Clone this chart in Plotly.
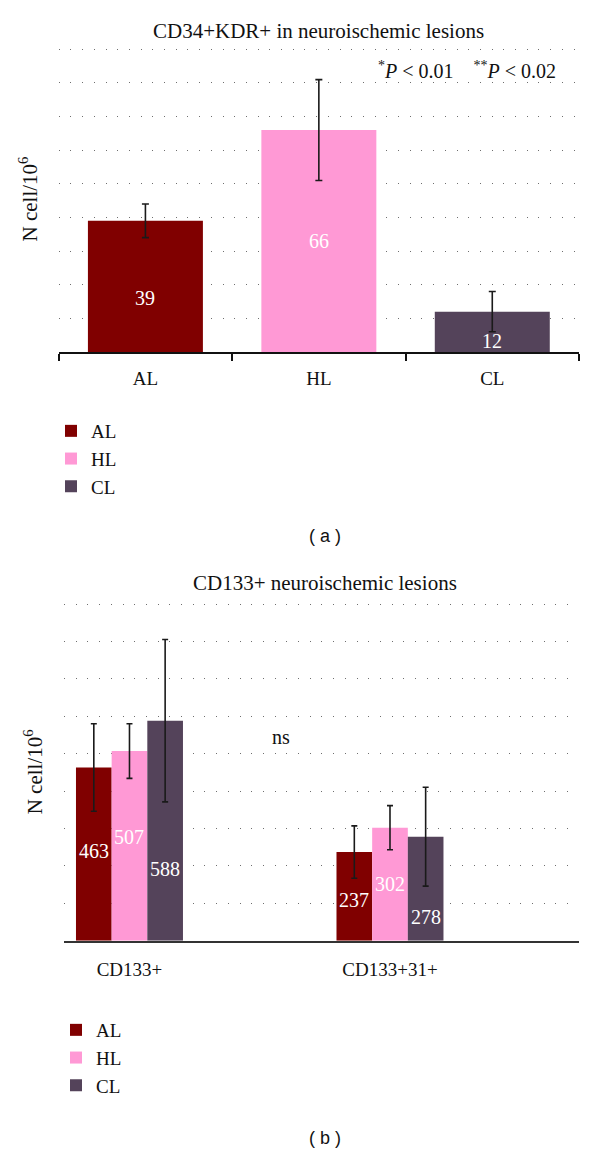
import plotly.graph_objects as go

# ---------------- data ----------------
groups = ["AL", "HL", "CL"]
colors = ["#800000", "#FF99D5", "#54435A"]

# panel (a): CD34+KDR+
a_categories = ["AL", "HL", "CL"]
a_values = [39, 66, 12]
a_errors = [5, 15, 6]

# panel (b): CD133+
b_categories = ["CD133+", "CD133+31+"]
b_values = {"AL": [463, 237], "HL": [507, 302], "CL": [588, 278]}
b_errors = {"AL": [117, 70], "HL": [73, 59], "CL": [217, 132]}

# label pixel shifts (style)
a_label_shift = [-12, 0, -9]
b_label_shift = {"AL": [3, -4], "HL": [9, 0], "CL": [-38, -28]}

# page has an 8px body margin: figure is drawn 8px in from the top-left corner
OFF = 8
W, H = 600 - OFF, 1154 - OFF


def PX(px):
    return (px - OFF) / W


def PY(py):
    return 1 - (py - OFF) / H


SERIF = "Liberation Serif"
SANS = "Liberation Sans"
TXT = "#111111"

fig = go.Figure()

# ---- panel (a) bars ----
a_w = 0.663
for i, g in enumerate(groups):
    fig.add_trace(go.Bar(
        x=[a_categories[i]], y=[a_values[i]], name=g,
        marker=dict(color=colors[i], line=dict(width=0)),
        width=a_w, offset=-a_w / 2,
        error_y=dict(type="data", array=[a_errors[i]], color="#1a1a1a", thickness=1.6, width=3.5),
        xaxis="x", yaxis="y", legend="legend", showlegend=True,
    ))

# ---- panel (b) bars ----
b_w = 0.1369
b_start = -0.2054
for i, g in enumerate(groups):
    fig.add_trace(go.Bar(
        x=b_categories, y=b_values[g], name=g,
        marker=dict(color=colors[i], line=dict(width=0)),
        width=b_w, offset=b_start + i * b_w,
        error_y=dict(type="data", array=b_errors[g], color="#1a1a1a", thickness=1.6, width=3),
        xaxis="x2", yaxis="y2", legend="legend2", showlegend=True,
    ))

annotations = []
# value labels (a)
for i, g in enumerate(groups):
    annotations.append(dict(
        x=a_categories[i], y=a_values[i] / 2, xref="x", yref="y",
        xanchor="center", yanchor="middle",
        text=str(a_values[i]), showarrow=False, yshift=a_label_shift[i],
        font=dict(family=SERIF, size=20, color="white")))
# value labels (b)
for i, g in enumerate(groups):
    for j, cat in enumerate(b_categories):
        annotations.append(dict(
            x=j + b_start + (i + 0.5) * b_w, y=b_values[g][j] / 2, xref="x2", yref="y2",
            xanchor="center", yanchor="middle",
            text=str(b_values[g][j]), showarrow=False, yshift=b_label_shift[g][j],
            font=dict(family=SERIF, size=20, color="white")))


def note(x, y, text, size, family=SERIF, xanchor="center"):
    return dict(x=PX(x), y=PY(y), xref="paper", yref="paper", showarrow=False,
                xanchor=xanchor, yanchor="middle", text=text,
                font=dict(family=family, size=size, color=TXT))


annotations += [
    note(318, 31, "CD34+KDR+ in neuroischemic lesions", 21),
    note(558, 70, "<sup>*</sup><i>P</i> &lt; 0.01 &nbsp;&nbsp;&nbsp;<sup>**</sup><i>P</i> &lt; 0.02",
         20, xanchor="right"),
    note(325, 536, "( a )", 18, family=SANS),
    note(325, 583, "CD133+ neuroischemic lesions", 21),
    note(281, 737, "ns", 20),
    note(325, 1138, "( b )", 18, family=SANS),
]

grid_common = dict(showgrid=True, gridcolor="#6e6e6e", gridwidth=1, griddash="1px,10.7px",
                   zeroline=False, showline=False, showticklabels=False, ticks="")

fig.update_layout(
    width=W, height=H, margin=dict(l=0, r=0, t=0, b=0),
    paper_bgcolor="white", plot_bgcolor="white",
    barmode="overlay", showlegend=True,
    font=dict(family=SERIF, size=19, color=TXT),
    xaxis=dict(domain=[PX(58.7), PX(579)], anchor="y", type="category",
               range=[-0.5, 2.5], showline=True, linecolor="#111", linewidth=1.6,
               ticks="outside", tickson="boundaries", ticklen=7, tickcolor="#111", tickwidth=1.6,
               showgrid=False, ticklabelstandoff=8,
               tickfont=dict(family=SERIF, size=19, color=TXT)),
    yaxis=dict(domain=[PY(352), PY(46)], anchor="x", range=[0, 91], dtick=10,
               title=dict(text="N cell/10<sup>6</sup>", standoff=14,
                          font=dict(family=SERIF, size=21, color=TXT)),
               **grid_common),
    xaxis2=dict(domain=[PX(64), PX(579)], anchor="y2", type="category",
                range=[-0.2514, 1.7255], showline=True, linecolor="#333", linewidth=2,
                ticks="", showgrid=False, ticklabelstandoff=10,
                tickfont=dict(family=SERIF, size=19, color=TXT)),
    yaxis2=dict(domain=[PY(940.7), PY(603)], anchor="x2", range=[0, 902.7], dtick=100,
                title=dict(text="N cell/10<sup>6</sup>", standoff=14,
                           font=dict(family=SERIF, size=21, color=TXT)),
                **grid_common),
    legend=dict(x=PX(51), y=PY(459), xanchor="left", yanchor="middle",
                font=dict(family=SERIF, size=19, color=TXT), bgcolor="rgba(0,0,0,0)",
                traceorder="normal", itemclick=False),
    legend2=dict(x=PX(56), y=PY(1058), xanchor="left", yanchor="middle",
                 font=dict(family=SERIF, size=19, color=TXT), bgcolor="rgba(0,0,0,0)",
                 traceorder="normal", itemclick=False),
    annotations=annotations,
)

fig.write_html("out.html")
